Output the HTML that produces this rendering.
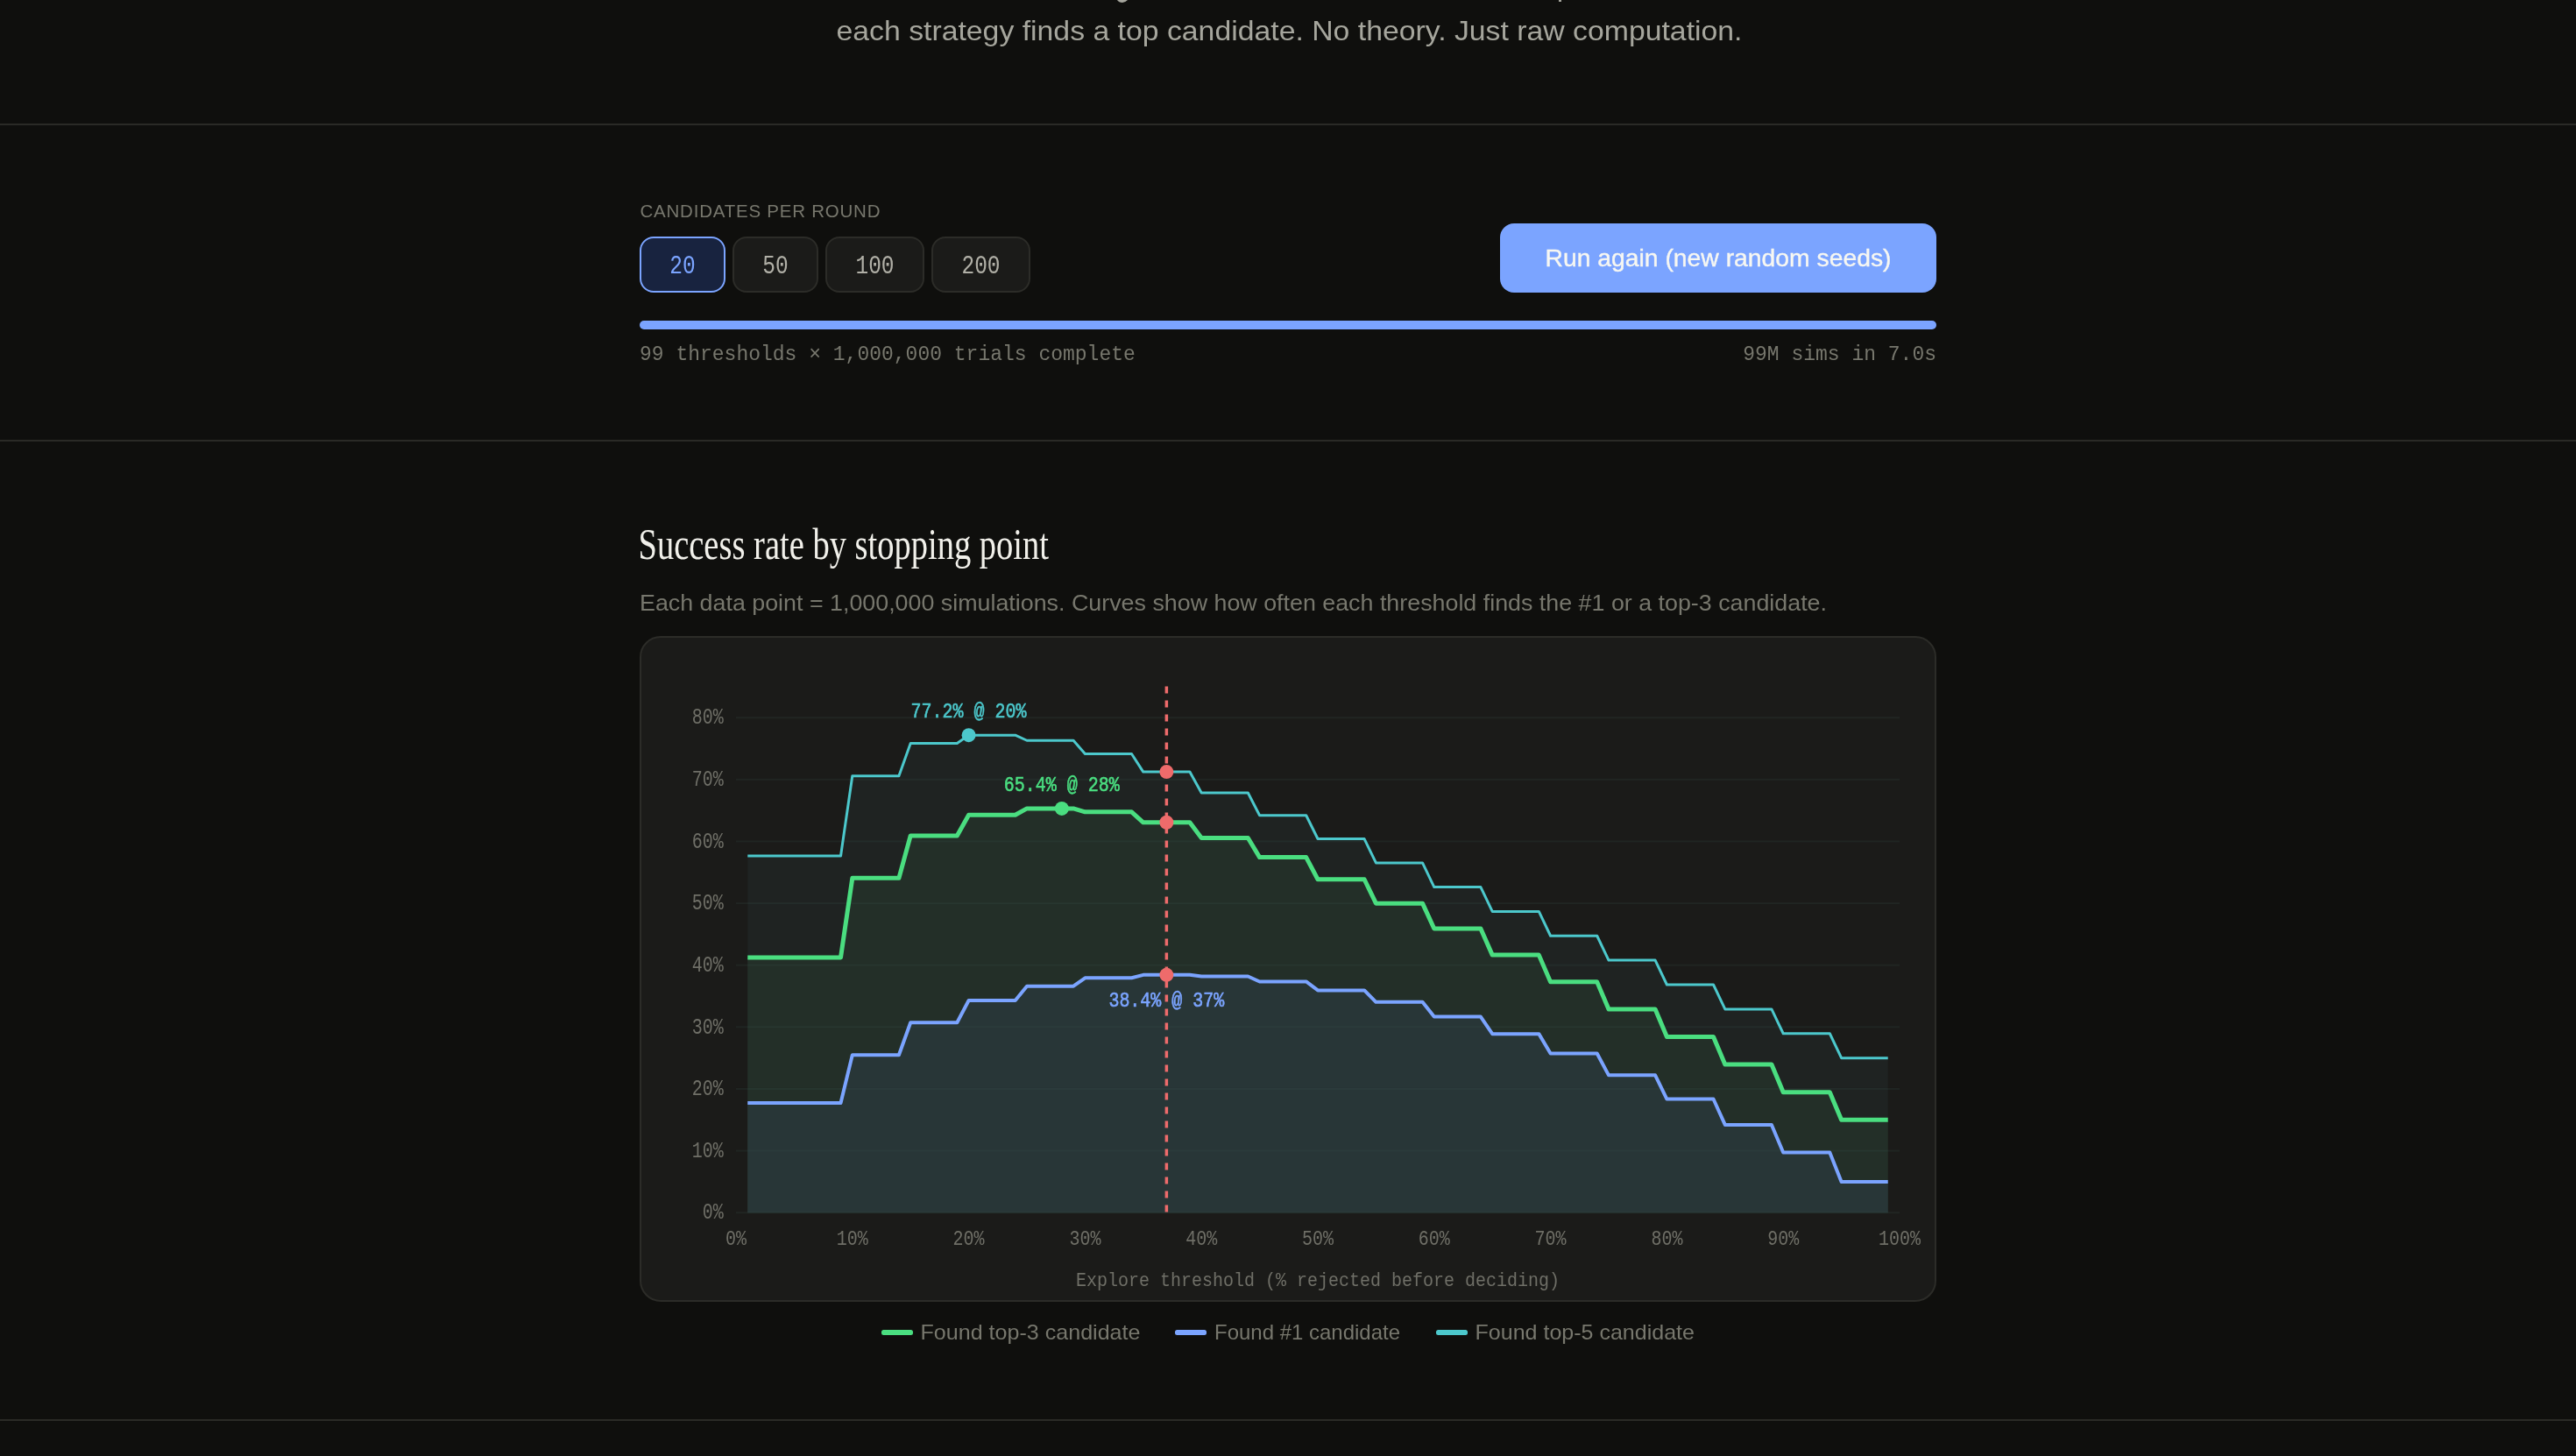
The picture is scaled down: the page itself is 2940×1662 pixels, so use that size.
<!DOCTYPE html><html><head><meta charset="utf-8"><title>Success rate by stopping point</title><style>
html,body{margin:0;padding:0;background:#0f0f0d;overflow:hidden;}
svg{display:block;width:100vw;height:auto;will-change:transform}
</style></head><body>
<svg width="2940" height="1662" viewBox="0 0 2940 1662">
<rect width="2940" height="1662" fill="#0f0f0d"/>
<path d="M1275,0 L1287,0 Q1284,3 1281,3 Q1277,3 1275,0 Z" fill="#a6a69d"/>
<rect x="1779" y="0" width="3" height="2" fill="#a6a69d"/>
<text x="954.5" y="46" font-family='"Liberation Sans", sans-serif' font-size="32" fill="#a6a69d" textLength="1034" lengthAdjust="spacingAndGlyphs">each strategy finds a top candidate. No theory. Just raw computation.</text>
<rect x="0" y="141" width="2940" height="2" fill="#2a2a26"/>
<rect x="0" y="502" width="2940" height="2" fill="#2a2a26"/>
<rect x="0" y="1620" width="2940" height="2" fill="#2a2a26"/>
<text x="730.5" y="248" font-family='"Liberation Sans", sans-serif' font-size="20.5" fill="#77776d" textLength="274" lengthAdjust="spacing">CANDIDATES PER ROUND</text>
<rect x="731" y="271" width="96" height="62" rx="15" fill="#18233f" stroke="#7ba4ff" stroke-width="2"/>
<text transform="translate(779.00,312.00) scale(1,1.22)" text-anchor="middle" font-family='"Liberation Mono", monospace' font-size="24.5" fill="#7ba4ff" >20</text>
<rect x="837" y="271" width="96" height="62" rx="15" fill="#1b1b19" stroke="#2c2c28" stroke-width="2"/>
<text transform="translate(885.00,312.00) scale(1,1.22)" text-anchor="middle" font-family='"Liberation Mono", monospace' font-size="24.5" fill="#b0afa6" >50</text>
<rect x="943" y="271" width="111" height="62" rx="15" fill="#1b1b19" stroke="#2c2c28" stroke-width="2"/>
<text transform="translate(998.50,312.00) scale(1,1.22)" text-anchor="middle" font-family='"Liberation Mono", monospace' font-size="24.5" fill="#b0afa6" >100</text>
<rect x="1064" y="271" width="111" height="62" rx="15" fill="#1b1b19" stroke="#2c2c28" stroke-width="2"/>
<text transform="translate(1119.50,312.00) scale(1,1.22)" text-anchor="middle" font-family='"Liberation Mono", monospace' font-size="24.5" fill="#b0afa6" >200</text>
<rect x="1712" y="255" width="498" height="79" rx="16" fill="#7ba4ff"/>
<text x="1763.5" y="304" font-family='"Liberation Sans", sans-serif' font-size="28" fill="#f7f7f2" stroke="#f7f7f2" stroke-width="0.4" textLength="395" lengthAdjust="spacingAndGlyphs">Run again (new random seeds)</text>
<rect x="730" y="366" width="1480" height="10" rx="5" fill="#7ba4ff"/>
<text transform="translate(730.00,411.00) scale(1,1.05)" text-anchor="start" font-family='"Liberation Mono", monospace' font-size="23" fill="#77776d" >99 thresholds × 1,000,000 trials complete</text>
<text transform="translate(2210.00,411.00) scale(1,1.05)" text-anchor="end" font-family='"Liberation Mono", monospace' font-size="23" fill="#77776d" >99M sims in 7.0s</text>
<text x="728.5" y="638" font-family='"Liberation Serif", serif' font-size="51" fill="#f1f0ea" textLength="468.5" lengthAdjust="spacingAndGlyphs">Success rate by stopping point</text>
<text x="730" y="697" font-family='"Liberation Sans", sans-serif' font-size="26" fill="#77776d" textLength="1355" lengthAdjust="spacingAndGlyphs">Each data point = 1,000,000 simulations. Curves show how often each threshold finds the #1 or a top-3 candidate.</text>
<rect x="731" y="727" width="1478" height="758" rx="23" fill="#1b1b19" stroke="#2c2c28" stroke-width="2"/>
<text transform="translate(825.80,1391.40) scale(1,1.25)" text-anchor="end" font-family='"Liberation Mono", monospace' font-size="20" fill="#6f6f67" >0%</text>
<text transform="translate(825.80,1320.78) scale(1,1.25)" text-anchor="end" font-family='"Liberation Mono", monospace' font-size="20" fill="#6f6f67" >10%</text>
<text transform="translate(825.80,1250.15) scale(1,1.25)" text-anchor="end" font-family='"Liberation Mono", monospace' font-size="20" fill="#6f6f67" >20%</text>
<text transform="translate(825.80,1179.53) scale(1,1.25)" text-anchor="end" font-family='"Liberation Mono", monospace' font-size="20" fill="#6f6f67" >30%</text>
<text transform="translate(825.80,1108.90) scale(1,1.25)" text-anchor="end" font-family='"Liberation Mono", monospace' font-size="20" fill="#6f6f67" >40%</text>
<text transform="translate(825.80,1038.28) scale(1,1.25)" text-anchor="end" font-family='"Liberation Mono", monospace' font-size="20" fill="#6f6f67" >50%</text>
<text transform="translate(825.80,967.65) scale(1,1.25)" text-anchor="end" font-family='"Liberation Mono", monospace' font-size="20" fill="#6f6f67" >60%</text>
<text transform="translate(825.80,897.03) scale(1,1.25)" text-anchor="end" font-family='"Liberation Mono", monospace' font-size="20" fill="#6f6f67" >70%</text>
<text transform="translate(825.80,826.40) scale(1,1.25)" text-anchor="end" font-family='"Liberation Mono", monospace' font-size="20" fill="#6f6f67" >80%</text>
<text transform="translate(840.00,1421.00) scale(1,1.2)" text-anchor="middle" font-family='"Liberation Mono", monospace' font-size="20" fill="#6f6f67" >0%</text>
<text transform="translate(972.80,1421.00) scale(1,1.2)" text-anchor="middle" font-family='"Liberation Mono", monospace' font-size="20" fill="#6f6f67" >10%</text>
<text transform="translate(1105.60,1421.00) scale(1,1.2)" text-anchor="middle" font-family='"Liberation Mono", monospace' font-size="20" fill="#6f6f67" >20%</text>
<text transform="translate(1238.40,1421.00) scale(1,1.2)" text-anchor="middle" font-family='"Liberation Mono", monospace' font-size="20" fill="#6f6f67" >30%</text>
<text transform="translate(1371.20,1421.00) scale(1,1.2)" text-anchor="middle" font-family='"Liberation Mono", monospace' font-size="20" fill="#6f6f67" >40%</text>
<text transform="translate(1504.00,1421.00) scale(1,1.2)" text-anchor="middle" font-family='"Liberation Mono", monospace' font-size="20" fill="#6f6f67" >50%</text>
<text transform="translate(1636.80,1421.00) scale(1,1.2)" text-anchor="middle" font-family='"Liberation Mono", monospace' font-size="20" fill="#6f6f67" >60%</text>
<text transform="translate(1769.60,1421.00) scale(1,1.2)" text-anchor="middle" font-family='"Liberation Mono", monospace' font-size="20" fill="#6f6f67" >70%</text>
<text transform="translate(1902.40,1421.00) scale(1,1.2)" text-anchor="middle" font-family='"Liberation Mono", monospace' font-size="20" fill="#6f6f67" >80%</text>
<text transform="translate(2035.20,1421.00) scale(1,1.2)" text-anchor="middle" font-family='"Liberation Mono", monospace' font-size="20" fill="#6f6f67" >90%</text>
<text transform="translate(2168.00,1421.00) scale(1,1.2)" text-anchor="middle" font-family='"Liberation Mono", monospace' font-size="20" fill="#6f6f67" >100%</text>
<text transform="translate(1504.00,1468.00) scale(1,1.1)" text-anchor="middle" font-family='"Liberation Mono", monospace' font-size="20" fill="#6f6f67" >Explore threshold (% rejected before deciding)</text>
<path d="M853.28,976.96 L866.56,976.96 L879.84,976.96 L893.12,976.96 L906.40,976.96 L919.68,976.96 L932.96,976.96 L946.24,976.96 L959.52,976.96 L972.80,885.67 L986.08,885.67 L999.36,885.67 L1012.64,885.67 L1025.92,885.67 L1039.20,848.59 L1052.48,848.59 L1065.76,848.59 L1079.04,848.59 L1092.32,848.59 L1105.60,839.14 L1118.88,839.14 L1132.16,839.14 L1145.44,839.14 L1158.72,839.14 L1172.00,845.24 L1185.28,845.24 L1198.56,845.24 L1211.84,845.24 L1225.12,845.24 L1238.40,860.46 L1251.68,860.46 L1264.96,860.46 L1278.24,860.46 L1291.52,860.46 L1304.80,881.10 L1318.08,881.10 L1331.36,881.10 L1344.64,881.10 L1357.92,881.10 L1371.20,904.97 L1384.48,904.97 L1397.76,904.97 L1411.04,904.97 L1424.32,904.97 L1437.60,930.72 L1450.88,930.72 L1464.16,930.72 L1477.44,930.72 L1490.72,930.72 L1504.00,957.53 L1517.28,957.53 L1530.56,957.53 L1543.84,957.53 L1557.12,957.53 L1570.40,984.91 L1583.68,984.91 L1596.96,984.91 L1610.24,984.91 L1623.52,984.91 L1636.80,1012.58 L1650.08,1012.58 L1663.36,1012.58 L1676.64,1012.58 L1689.92,1012.58 L1703.20,1040.39 L1716.48,1040.39 L1729.76,1040.39 L1743.04,1040.39 L1756.32,1040.39 L1769.60,1068.25 L1782.88,1068.25 L1796.16,1068.25 L1809.44,1068.25 L1822.72,1068.25 L1836.00,1096.12 L1849.28,1096.12 L1862.56,1096.12 L1875.84,1096.12 L1889.12,1096.12 L1902.40,1124.00 L1915.68,1124.00 L1928.96,1124.00 L1942.24,1124.00 L1955.52,1124.00 L1968.80,1151.88 L1982.08,1151.88 L1995.36,1151.88 L2008.64,1151.88 L2021.92,1151.88 L2035.20,1179.76 L2048.48,1179.76 L2061.76,1179.76 L2075.04,1179.76 L2088.32,1179.76 L2101.60,1207.64 L2114.88,1207.64 L2128.16,1207.64 L2141.44,1207.64 L2154.72,1207.64 L2154.72,1384.20 L853.28,1384.20 Z" fill="rgb(31,35,34)"/>
<path d="M853.28,1092.93 L866.56,1092.93 L879.84,1092.93 L893.12,1092.93 L906.40,1092.93 L919.68,1092.93 L932.96,1092.93 L946.24,1092.93 L959.52,1092.93 L972.80,1002.37 L986.08,1002.37 L999.36,1002.37 L1012.64,1002.37 L1025.92,1002.37 L1039.20,953.95 L1052.48,953.95 L1065.76,953.95 L1079.04,953.95 L1092.32,953.95 L1105.60,930.31 L1118.88,930.31 L1132.16,930.31 L1145.44,930.31 L1158.72,930.31 L1172.00,922.93 L1185.28,922.93 L1198.56,922.93 L1211.84,922.93 L1225.12,922.93 L1238.40,926.82 L1251.68,926.82 L1264.96,926.82 L1278.24,926.82 L1291.52,926.82 L1304.80,938.77 L1318.08,938.77 L1331.36,938.77 L1344.64,938.77 L1357.92,938.77 L1371.20,956.56 L1384.48,956.56 L1397.76,956.56 L1411.04,956.56 L1424.32,956.56 L1437.60,978.61 L1450.88,978.61 L1464.16,978.61 L1477.44,978.61 L1490.72,978.61 L1504.00,1003.75 L1517.28,1003.75 L1530.56,1003.75 L1543.84,1003.75 L1557.12,1003.75 L1570.40,1031.13 L1583.68,1031.13 L1596.96,1031.13 L1610.24,1031.13 L1623.52,1031.13 L1636.80,1060.08 L1650.08,1060.08 L1663.36,1060.08 L1676.64,1060.08 L1689.92,1060.08 L1703.20,1090.12 L1716.48,1090.12 L1729.76,1090.12 L1743.04,1090.12 L1756.32,1090.12 L1769.60,1120.87 L1782.88,1120.87 L1796.16,1120.87 L1809.44,1120.87 L1822.72,1120.87 L1836.00,1152.07 L1849.28,1152.07 L1862.56,1152.07 L1875.84,1152.07 L1889.12,1152.07 L1902.40,1183.51 L1915.68,1183.51 L1928.96,1183.51 L1942.24,1183.51 L1955.52,1183.51 L1968.80,1215.07 L1982.08,1215.07 L1995.36,1215.07 L2008.64,1215.07 L2021.92,1215.07 L2035.20,1246.67 L2048.48,1246.67 L2061.76,1246.67 L2075.04,1246.67 L2088.32,1246.67 L2101.60,1278.26 L2114.88,1278.26 L2128.16,1278.26 L2141.44,1278.26 L2154.72,1278.26 L2154.72,1384.20 L853.28,1384.20 Z" fill="rgb(35,47,40)"/>
<path d="M853.28,1258.92 L866.56,1258.92 L879.84,1258.92 L893.12,1258.92 L906.40,1258.92 L919.68,1258.92 L932.96,1258.92 L946.24,1258.92 L959.52,1258.92 L972.80,1204.27 L986.08,1204.27 L999.36,1204.27 L1012.64,1204.27 L1025.92,1204.27 L1039.20,1167.27 L1052.48,1167.27 L1065.76,1167.27 L1079.04,1167.27 L1092.32,1167.27 L1105.60,1142.04 L1118.88,1142.04 L1132.16,1142.04 L1145.44,1142.04 L1158.72,1142.04 L1172.00,1125.64 L1185.28,1125.64 L1198.56,1125.64 L1211.84,1125.64 L1225.12,1125.64 L1238.40,1116.30 L1251.68,1116.30 L1264.96,1116.30 L1278.24,1116.30 L1291.52,1116.30 L1304.80,1112.85 L1318.08,1112.85 L1331.36,1112.85 L1344.64,1112.85 L1357.92,1112.85 L1371.20,1114.45 L1384.48,1114.45 L1397.76,1114.45 L1411.04,1114.45 L1424.32,1114.45 L1437.60,1120.45 L1450.88,1120.45 L1464.16,1120.45 L1477.44,1120.45 L1490.72,1120.45 L1504.00,1130.38 L1517.28,1130.38 L1530.56,1130.38 L1543.84,1130.38 L1557.12,1130.38 L1570.40,1143.85 L1583.68,1143.85 L1596.96,1143.85 L1610.24,1143.85 L1623.52,1143.85 L1636.80,1160.52 L1650.08,1160.52 L1663.36,1160.52 L1676.64,1160.52 L1689.92,1160.52 L1703.20,1180.13 L1716.48,1180.13 L1729.76,1180.13 L1743.04,1180.13 L1756.32,1180.13 L1769.60,1202.46 L1782.88,1202.46 L1796.16,1202.46 L1809.44,1202.46 L1822.72,1202.46 L1836.00,1227.32 L1849.28,1227.32 L1862.56,1227.32 L1875.84,1227.32 L1889.12,1227.32 L1902.40,1254.53 L1915.68,1254.53 L1928.96,1254.53 L1942.24,1254.53 L1955.52,1254.53 L1968.80,1283.94 L1982.08,1283.94 L1995.36,1283.94 L2008.64,1283.94 L2021.92,1283.94 L2035.20,1315.43 L2048.48,1315.43 L2061.76,1315.43 L2075.04,1315.43 L2088.32,1315.43 L2101.60,1348.89 L2114.88,1348.89 L2128.16,1348.89 L2141.44,1348.89 L2154.72,1348.89 L2154.72,1384.20 L853.28,1384.20 Z" fill="rgb(40,54,55)"/>
<rect x="840.0" y="1383.20" width="1328.0" height="2" fill="#3a5a55" fill-opacity="0.17"/>
<rect x="840.0" y="1312.58" width="1328.0" height="2" fill="#3a5a55" fill-opacity="0.17"/>
<rect x="840.0" y="1241.95" width="1328.0" height="2" fill="#3a5a55" fill-opacity="0.17"/>
<rect x="840.0" y="1171.33" width="1328.0" height="2" fill="#3a5a55" fill-opacity="0.17"/>
<rect x="840.0" y="1100.70" width="1328.0" height="2" fill="#3a5a55" fill-opacity="0.17"/>
<rect x="840.0" y="1030.08" width="1328.0" height="2" fill="#3a5a55" fill-opacity="0.17"/>
<rect x="840.0" y="959.45" width="1328.0" height="2" fill="#3a5a55" fill-opacity="0.17"/>
<rect x="840.0" y="888.83" width="1328.0" height="2" fill="#3a5a55" fill-opacity="0.17"/>
<rect x="840.0" y="818.20" width="1328.0" height="2" fill="#3a5a55" fill-opacity="0.17"/>
<path d="M853.28,1092.93 L866.56,1092.93 L879.84,1092.93 L893.12,1092.93 L906.40,1092.93 L919.68,1092.93 L932.96,1092.93 L946.24,1092.93 L959.52,1092.93 L972.80,1002.37 L986.08,1002.37 L999.36,1002.37 L1012.64,1002.37 L1025.92,1002.37 L1039.20,953.95 L1052.48,953.95 L1065.76,953.95 L1079.04,953.95 L1092.32,953.95 L1105.60,930.31 L1118.88,930.31 L1132.16,930.31 L1145.44,930.31 L1158.72,930.31 L1172.00,922.93 L1185.28,922.93 L1198.56,922.93 L1211.84,922.93 L1225.12,922.93 L1238.40,926.82 L1251.68,926.82 L1264.96,926.82 L1278.24,926.82 L1291.52,926.82 L1304.80,938.77 L1318.08,938.77 L1331.36,938.77 L1344.64,938.77 L1357.92,938.77 L1371.20,956.56 L1384.48,956.56 L1397.76,956.56 L1411.04,956.56 L1424.32,956.56 L1437.60,978.61 L1450.88,978.61 L1464.16,978.61 L1477.44,978.61 L1490.72,978.61 L1504.00,1003.75 L1517.28,1003.75 L1530.56,1003.75 L1543.84,1003.75 L1557.12,1003.75 L1570.40,1031.13 L1583.68,1031.13 L1596.96,1031.13 L1610.24,1031.13 L1623.52,1031.13 L1636.80,1060.08 L1650.08,1060.08 L1663.36,1060.08 L1676.64,1060.08 L1689.92,1060.08 L1703.20,1090.12 L1716.48,1090.12 L1729.76,1090.12 L1743.04,1090.12 L1756.32,1090.12 L1769.60,1120.87 L1782.88,1120.87 L1796.16,1120.87 L1809.44,1120.87 L1822.72,1120.87 L1836.00,1152.07 L1849.28,1152.07 L1862.56,1152.07 L1875.84,1152.07 L1889.12,1152.07 L1902.40,1183.51 L1915.68,1183.51 L1928.96,1183.51 L1942.24,1183.51 L1955.52,1183.51 L1968.80,1215.07 L1982.08,1215.07 L1995.36,1215.07 L2008.64,1215.07 L2021.92,1215.07 L2035.20,1246.67 L2048.48,1246.67 L2061.76,1246.67 L2075.04,1246.67 L2088.32,1246.67 L2101.60,1278.26 L2114.88,1278.26 L2128.16,1278.26 L2141.44,1278.26 L2154.72,1278.26" fill="none" stroke="#4ade80" stroke-width="5" stroke-linejoin="round"/>
<path d="M853.28,1258.92 L866.56,1258.92 L879.84,1258.92 L893.12,1258.92 L906.40,1258.92 L919.68,1258.92 L932.96,1258.92 L946.24,1258.92 L959.52,1258.92 L972.80,1204.27 L986.08,1204.27 L999.36,1204.27 L1012.64,1204.27 L1025.92,1204.27 L1039.20,1167.27 L1052.48,1167.27 L1065.76,1167.27 L1079.04,1167.27 L1092.32,1167.27 L1105.60,1142.04 L1118.88,1142.04 L1132.16,1142.04 L1145.44,1142.04 L1158.72,1142.04 L1172.00,1125.64 L1185.28,1125.64 L1198.56,1125.64 L1211.84,1125.64 L1225.12,1125.64 L1238.40,1116.30 L1251.68,1116.30 L1264.96,1116.30 L1278.24,1116.30 L1291.52,1116.30 L1304.80,1112.85 L1318.08,1112.85 L1331.36,1112.85 L1344.64,1112.85 L1357.92,1112.85 L1371.20,1114.45 L1384.48,1114.45 L1397.76,1114.45 L1411.04,1114.45 L1424.32,1114.45 L1437.60,1120.45 L1450.88,1120.45 L1464.16,1120.45 L1477.44,1120.45 L1490.72,1120.45 L1504.00,1130.38 L1517.28,1130.38 L1530.56,1130.38 L1543.84,1130.38 L1557.12,1130.38 L1570.40,1143.85 L1583.68,1143.85 L1596.96,1143.85 L1610.24,1143.85 L1623.52,1143.85 L1636.80,1160.52 L1650.08,1160.52 L1663.36,1160.52 L1676.64,1160.52 L1689.92,1160.52 L1703.20,1180.13 L1716.48,1180.13 L1729.76,1180.13 L1743.04,1180.13 L1756.32,1180.13 L1769.60,1202.46 L1782.88,1202.46 L1796.16,1202.46 L1809.44,1202.46 L1822.72,1202.46 L1836.00,1227.32 L1849.28,1227.32 L1862.56,1227.32 L1875.84,1227.32 L1889.12,1227.32 L1902.40,1254.53 L1915.68,1254.53 L1928.96,1254.53 L1942.24,1254.53 L1955.52,1254.53 L1968.80,1283.94 L1982.08,1283.94 L1995.36,1283.94 L2008.64,1283.94 L2021.92,1283.94 L2035.20,1315.43 L2048.48,1315.43 L2061.76,1315.43 L2075.04,1315.43 L2088.32,1315.43 L2101.60,1348.89 L2114.88,1348.89 L2128.16,1348.89 L2141.44,1348.89 L2154.72,1348.89" fill="none" stroke="#7ba4ff" stroke-width="4" stroke-linejoin="round"/>
<path d="M853.28,976.96 L866.56,976.96 L879.84,976.96 L893.12,976.96 L906.40,976.96 L919.68,976.96 L932.96,976.96 L946.24,976.96 L959.52,976.96 L972.80,885.67 L986.08,885.67 L999.36,885.67 L1012.64,885.67 L1025.92,885.67 L1039.20,848.59 L1052.48,848.59 L1065.76,848.59 L1079.04,848.59 L1092.32,848.59 L1105.60,839.14 L1118.88,839.14 L1132.16,839.14 L1145.44,839.14 L1158.72,839.14 L1172.00,845.24 L1185.28,845.24 L1198.56,845.24 L1211.84,845.24 L1225.12,845.24 L1238.40,860.46 L1251.68,860.46 L1264.96,860.46 L1278.24,860.46 L1291.52,860.46 L1304.80,881.10 L1318.08,881.10 L1331.36,881.10 L1344.64,881.10 L1357.92,881.10 L1371.20,904.97 L1384.48,904.97 L1397.76,904.97 L1411.04,904.97 L1424.32,904.97 L1437.60,930.72 L1450.88,930.72 L1464.16,930.72 L1477.44,930.72 L1490.72,930.72 L1504.00,957.53 L1517.28,957.53 L1530.56,957.53 L1543.84,957.53 L1557.12,957.53 L1570.40,984.91 L1583.68,984.91 L1596.96,984.91 L1610.24,984.91 L1623.52,984.91 L1636.80,1012.58 L1650.08,1012.58 L1663.36,1012.58 L1676.64,1012.58 L1689.92,1012.58 L1703.20,1040.39 L1716.48,1040.39 L1729.76,1040.39 L1743.04,1040.39 L1756.32,1040.39 L1769.60,1068.25 L1782.88,1068.25 L1796.16,1068.25 L1809.44,1068.25 L1822.72,1068.25 L1836.00,1096.12 L1849.28,1096.12 L1862.56,1096.12 L1875.84,1096.12 L1889.12,1096.12 L1902.40,1124.00 L1915.68,1124.00 L1928.96,1124.00 L1942.24,1124.00 L1955.52,1124.00 L1968.80,1151.88 L1982.08,1151.88 L1995.36,1151.88 L2008.64,1151.88 L2021.92,1151.88 L2035.20,1179.76 L2048.48,1179.76 L2061.76,1179.76 L2075.04,1179.76 L2088.32,1179.76 L2101.60,1207.64 L2114.88,1207.64 L2128.16,1207.64 L2141.44,1207.64 L2154.72,1207.64" fill="none" stroke="#4cc8cc" stroke-width="3" stroke-linejoin="round"/>
<line x1="1331.36" y1="783.6" x2="1331.36" y2="1384.2" stroke="#ee6b6b" stroke-width="3.5" stroke-dasharray="8 8"/>
<circle cx="1105.60" cy="839.14" r="8" fill="#4cc8cc"/>
<text transform="translate(1105.60,819.14) scale(1,1.2)" text-anchor="middle" font-family='"Liberation Mono", monospace' font-size="20" fill="#4cc8cc" stroke="#4cc8cc" stroke-width="0.5">77.2% @ 20%</text>
<circle cx="1211.84" cy="922.93" r="8" fill="#4ade80"/>
<text transform="translate(1211.84,902.93) scale(1,1.2)" text-anchor="middle" font-family='"Liberation Mono", monospace' font-size="20" fill="#4ade80" stroke="#4ade80" stroke-width="0.5">65.4% @ 28%</text>
<text transform="translate(1331.36,1148.85) scale(1,1.2)" text-anchor="middle" font-family='"Liberation Mono", monospace' font-size="20" fill="#7ba4ff" stroke="#7ba4ff" stroke-width="0.5">38.4% @ 37%</text>
<circle cx="1331.36" cy="881.10" r="8" fill="#ee6b6b"/>
<circle cx="1331.36" cy="938.77" r="8" fill="#ee6b6b"/>
<circle cx="1331.36" cy="1112.85" r="8" fill="#ee6b6b"/>
<rect x="1006" y="1518" width="36" height="6" rx="2.5" fill="#4ade80"/>
<text x="1050.5" y="1529" font-family='"Liberation Sans", sans-serif' font-size="24" fill="#77776d" textLength="251" lengthAdjust="spacingAndGlyphs">Found top-3 candidate</text>
<rect x="1341" y="1518" width="36" height="6" rx="2.5" fill="#7ba4ff"/>
<text x="1386" y="1529" font-family='"Liberation Sans", sans-serif' font-size="24" fill="#77776d" textLength="212" lengthAdjust="spacingAndGlyphs">Found #1 candidate</text>
<rect x="1639" y="1518" width="36" height="6" rx="2.5" fill="#4cc8cc"/>
<text x="1683.5" y="1529" font-family='"Liberation Sans", sans-serif' font-size="24" fill="#77776d" textLength="250.5" lengthAdjust="spacingAndGlyphs">Found top-5 candidate</text>
</svg></body></html>
